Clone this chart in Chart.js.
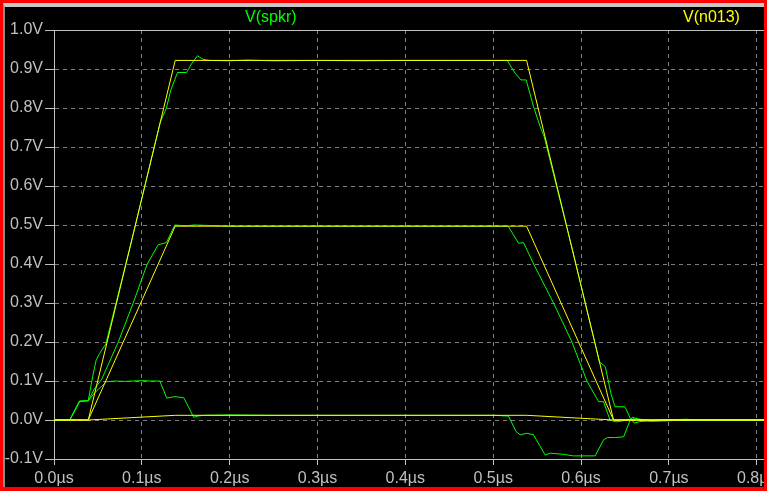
<!DOCTYPE html>
<html>
<head>
<meta charset="utf-8">
<script src="https://cdn.jsdelivr.net/npm/chart.js@4"></script>
<style>
  body { margin: 0; background: #000; }
  #frame { position: relative; width: 767px; height: 491px; background: #ff0000; overflow: hidden; }
  #inner { position: absolute; left: 3px; top: 3px; width: 759px; height: 480px;
           border-top: 4px solid #c8c8c8; border-left: 2px solid #8c8c8c; background: #000; }
  canvas { display: block; }
</style>
</head>
<body>
<div id="frame"><div id="inner"><canvas id="chart" width="759" height="480"></canvas></div></div>
<script>
'use strict';

// V(n013) - three stepped runs, same time points
const nodeTimes = [0, 0.039, 0.138, 0.538, 0.637, 0.8083];
const n013Hi  = [0, 0, 0.922, 0.922, 0, 0];
const n013Mid = [0, 0, 0.497, 0.497, 0, 0];
const n013Lo  = [0, 0, 0.012, 0.012, 0, 0];

// V(spkr) - high run
const spkrHiT = [0, 0.018, 0.029, 0.039, 0.044, 0.048, 0.052, 0.059, 0.09, 0.121,
  0.128, 0.133, 0.1406, 0.1509, 0.157, 0.1634, 0.166, 0.1695, 0.177, 0.2,
  0.22, 0.25, 0.3, 0.35, 0.4, 0.45, 0.5, 0.516, 0.525, 0.5315,
  0.5375, 0.546, 0.5535, 0.558, 0.59, 0.621, 0.6276, 0.634, 0.6387, 0.65,
  0.656, 0.6606, 0.667, 0.68, 0.7, 0.72, 0.74, 0.8083];
const spkrHiV = [0, 0, 0.047, 0.05, 0.111, 0.154, 0.171, 0.195, 0.475, 0.764,
  0.80, 0.846, 0.891, 0.891, 0.915, 0.934, 0.93, 0.925, 0.922, 0.921,
  0.923, 0.921, 0.922, 0.921, 0.922, 0.922, 0.922, 0.922, 0.889, 0.872,
  0.872, 0.803, 0.752, 0.727, 0.438, 0.149, 0.137, 0.068, 0.034, 0.034,
  0.005, -0.008, -0.004, -0.002, 0.001, -0.001, 0, 0];

// V(spkr) - middle run
const spkrMidT = [0, 0.018, 0.029, 0.039, 0.046, 0.054, 0.073, 0.09, 0.106, 0.1185,
  0.128, 0.1375, 0.15, 0.16, 0.2, 0.3, 0.4, 0.5, 0.517, 0.529,
  0.5345, 0.546, 0.5687, 0.5896, 0.6067, 0.62, 0.6256, 0.633, 0.64, 0.66,
  0.68, 0.7, 0.72, 0.73, 0.8083];
const spkrMidV = [0, 0, 0.047, 0.05, 0.08, 0.103, 0.199, 0.299, 0.399, 0.449,
  0.455, 0.5, 0.498, 0.5, 0.497, 0.497, 0.497, 0.497, 0.497, 0.453,
  0.455, 0.4, 0.3, 0.2, 0.1, 0.047, 0.047, 0, -0.005, 0.003,
  -0.003, 0, 0.002, 0, 0];

// V(spkr) - low run
const spkrLoT = [0, 0.018, 0.029, 0.039, 0.0464, 0.0597, 0.07, 0.08, 0.09, 0.1,
  0.11, 0.1205, 0.1284, 0.1375, 0.1478, 0.159, 0.1637, 0.17, 0.2, 0.25,
  0.3, 0.4, 0.5, 0.5174, 0.5262, 0.5307, 0.5383, 0.5459, 0.5592, 0.5649,
  0.58, 0.5911, 0.6162, 0.6256, 0.63, 0.639, 0.6485, 0.656, 0.6584, 0.665,
  0.68, 0.7, 0.72, 0.73, 0.8083];
const spkrLoV = [0, 0, 0.049, 0.049, 0.07, 0.098, 0.1, 0.099, 0.1, 0.101,
  0.1, 0.1, 0.056, 0.06, 0.057, 0.007, 0.01, 0.012, 0.013, 0.012,
  0.012, 0.012, 0.012, 0.01, -0.03, -0.038, -0.034, -0.038, -0.09, -0.085,
  -0.088, -0.092, -0.092, -0.051, -0.045, -0.045, -0.043, 0, 0.007, 0.003,
  -0.003, -0.002, 0.001, 0, 0];

const xMin = 0, xMax = 0.8083, xStep = 0.1;
const yMin = -0.1, yMax = 1.0, yStep = 0.1;

const GREEN = '#00ff00';
const YELLOW = '#ffff00';
const FONT = '"Liberation Sans", Arial, sans-serif';

const pts = (ts, vs) => ts.map((t, i) => ({ x: t, y: vs[i] }));
const trace = (data, color) => ({
  data: data,
  borderColor: color,
  borderWidth: 1,
  pointRadius: 0,
  tension: 0,
  fill: false
});

// yellow first so it lands on top of the green
const datasets = [
  trace(pts(nodeTimes, n013Hi), YELLOW),
  trace(pts(nodeTimes, n013Mid), YELLOW),
  trace(pts(nodeTimes, n013Lo), YELLOW),
  trace(pts(spkrHiT, spkrHiV), GREEN),
  trace(pts(spkrMidT, spkrMidV), GREEN),
  trace(pts(spkrLoT, spkrLoV), GREEN)
];

const frameAndNames = {
  id: 'frameAndNames',
  afterDraw(chart) {
    const ctx = chart.ctx;
    const a = chart.chartArea;
    ctx.save();
    ctx.strokeStyle = '#c0c0c0';
    ctx.lineWidth = 1;
    ctx.beginPath();
    ctx.moveTo(a.left, a.top + 0.5);
    ctx.lineTo(a.right, a.top + 0.5);
    ctx.stroke();
    ctx.font = '16px ' + FONT;
    ctx.textBaseline = 'middle';
    ctx.textAlign = 'left';
    ctx.fillStyle = GREEN;
    ctx.fillText('V(spkr)', 240, 11);
    ctx.fillStyle = YELLOW;
    ctx.fillText('V(n013)', 678, 11);
    ctx.restore();
  }
};

const fmt = (v, unit) => (Math.abs(v) < 1e-9 ? 0 : v).toFixed(1) + unit;

new Chart(document.getElementById('chart').getContext('2d'), {
  type: 'line',
  data: { datasets: datasets },
  options: {
    responsive: false,
    devicePixelRatio: 1,
    animation: false,
    layout: { padding: { top: 23, right: 0, left: 0, bottom: 0 } },
    plugins: { legend: { display: false }, tooltip: { enabled: false } },
    scales: {
      x: {
        type: 'linear',
        min: xMin,
        max: xMax,
        afterFit: s => { s.height = 28; s.paddingLeft = 0; s.paddingRight = 0; },
        ticks: {
          stepSize: xStep,
          includeBounds: false,
          maxRotation: 0,
          autoSkip: false,
          padding: 4,
          color: '#c0c0c0',
          font: { size: 16, family: FONT },
          callback: v => fmt(v, 'µs')
        },
        grid: { color: '#808080', tickColor: '#c0c0c0', tickLength: 6, borderDash: [4, 4] },
        border: { display: true, color: '#c0c0c0', width: 1, dash: [4, 4] }
      },
      y: {
        type: 'linear',
        min: yMin,
        max: yMax,
        afterFit: s => { s.width = 49; s.paddingTop = 0; s.paddingBottom = 0; },
        ticks: {
          stepSize: yStep,
          includeBounds: false,
          padding: 2,
          color: '#c0c0c0',
          font: { size: 16, family: FONT },
          callback: v => fmt(v, 'V')
        },
        grid: { color: '#808080', tickColor: '#c0c0c0', tickLength: 9, borderDash: [4, 4] },
        border: { display: true, color: '#c0c0c0', width: 1, dash: [4, 4] }
      }
    }
  },
  plugins: [frameAndNames]
});
</script>
</body>
</html>
